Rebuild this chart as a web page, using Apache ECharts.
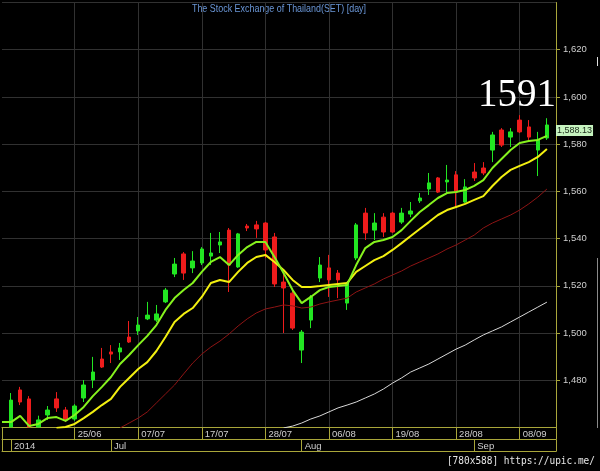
<!DOCTYPE html>
<html><head><meta charset="utf-8">
<script src="https://cdn.jsdelivr.net/npm/echarts@6/dist/echarts.min.js"></script>
<style>html,body{margin:0;padding:0;background:#000;}#c{width:600px;height:471px;}</style>
</head><body><div id="c"></div>
<script>
// ---- data (index 0 = partially hidden bar at the left edge) ----
const dates = ['13/06','16/06','17/06','18/06','19/06','20/06','23/06','24/06','25/06','26/06','27/06','30/06',
 '01/07','02/07','03/07','07/07','08/07','09/07','10/07','14/07','15/07','16/07','17/07','18/07','21/07','22/07','23/07','24/07','25/07','28/07','29/07','30/07','31/07',
 '01/08','04/08','05/08','06/08','07/08','08/08','11/08','13/08','14/08','18/08','19/08','20/08','21/08','22/08','25/08','26/08','27/08','28/08','29/08',
 '01/09','02/09','03/09','04/09','05/09','08/09','09/09','10/09','11/09'];
const openP = [null,1460.2,1475.9,1472.1,1460.2,1465.3,1472.1,1467.4,1463.6,1472.5,1480.1,
 1489.0,1492.0,1492.0,1498.3,1500.9,1506.0,1505.5,1513.2,1525.0,1533.5,
 1527.6,1529.7,1532.6,1537.3,1543.6,1528.0,1545.3,1545.8,1546.6,1540.7,
 1521.6,1516.9,1492.8,1505.5,1523.3,1527.6,1525.4,1512.7,1531.8,1550.8,
 1543.6,1549.1,1550.8,1547.0,1550.4,1556.0,1561.0,1565.7,1564.0,1567.0,
 1555.5,1568.2,1569.9,1577.5,1586.0,1583.0,1590.2,1587.3,1577.5,1582.6];
const closeP = [null,1471.6,1470.8,1460.2,1463.2,1467.4,1468.3,1463.2,1469.1,1478.0,1483.5,
 1485.6,1491.1,1493.7,1496.2,1503.4,1507.6,1508.1,1518.2,1529.2,1525.4,
 1530.5,1535.6,1533.9,1538.6,1528.8,1542.0,1544.5,1544.1,1535.2,1520.8,
 1519.1,1502.1,1500.4,1515.3,1528.8,1522.5,1522.5,1521.2,1545.8,1542.4,
 1546.6,1542.8,1542.8,1550.8,1551.7,1557.2,1563.6,1559.7,1564.8,1559.7,
 1561.9,1565.7,1567.8,1583.9,1579.6,1585.2,1585.2,1583.0,1581.8,1588.13];
const lowP = [null,1460.2,1469.5,1460.2,1460.2,1463.2,1466.6,1462.3,1462.8,1470.8,1476.7,
 1485.2,1487.3,1488.6,1495.8,1499.2,1505.5,1504.7,1512.7,1523.7,1522.5,
 1525.4,1528.8,1528.8,1533.9,1517.4,1527.6,1543.2,1540.3,1531.8,1519.5,
 1500.0,1501.3,1487.3,1502.1,1521.6,1515.3,1514.8,1509.8,1530.9,1539.4,
 1539.4,1540.7,1542.4,1546.2,1549.1,1555.1,1558.5,1559.3,1559.3,1553.4,
 1555.1,1564.4,1566.9,1572.4,1578.8,1578.8,1584.7,1581.8,1566.5,1581.8];
const highP = [null,1474.6,1477.2,1473.3,1465,1469.1,1475.0,1468.7,1469.9,1480.1,1489.9,
 1493.7,1494.9,1495.8,1505.1,1506.8,1513.2,1511.9,1519.1,1531.8,1534.3,
 1534.7,1536.4,1542.4,1542.8,1544.5,1542.4,1546.2,1547.5,1547.0,1542.4,
 1525.4,1518.2,1501.3,1516.1,1532.2,1533.1,1526.7,1521.6,1546.6,1553.0,
 1550.8,1550.8,1551.3,1553.0,1555.5,1559.3,1567.8,1566.1,1571.2,1568.6,
 1565.2,1572.0,1572.4,1585.2,1586.8,1586.8,1592.3,1590.2,1585.2,1591.0];
const maGreen = [1462.3,1462.3,1464.9,1460.6,1461.5,1464.0,1464.4,1462.8,1465.3,1468.7,1473.3,
 1477.2,1481.4,1486.9,1490.7,1494.9,1498.8,1503.4,1509.8,1514.8,1518.2,
 1521.2,1525.9,1530.1,1532.2,1528.8,1533.1,1536.4,1538.6,1538.6,1532.2,
 1525.4,1518.2,1512.7,1515.3,1518.2,1519.5,1519.9,1520.4,1528.8,1536.0,
 1538.6,1539.4,1540.7,1543.6,1547.5,1551.3,1554.2,1557.2,1559.3,1559.7,
 1560.6,1562.3,1564.8,1569.9,1573.7,1577.5,1580.5,1581.3,1581.8,1583.5];
const maYellow = [null,null,null,null,null,null,1459.8,1460.2,1461.5,1464.0,1466.6,
 1469.5,1472.1,1477.2,1481.0,1484.8,1487.7,1492.4,1498.3,1504.7,1508.1,
 1510.6,1515.3,1521.2,1522.5,1521.6,1525.9,1529.7,1532.2,1533.1,1530.1,
 1526.7,1522.5,1519.5,1519.5,1519.9,1520.4,1520.8,1521.2,1525.9,1528.4,
 1530.9,1532.6,1535.2,1538.1,1541.1,1544.1,1547.0,1550.0,1552.1,1553.4,
 1554.7,1556.4,1558.0,1562.3,1566.1,1569.1,1570.8,1572.4,1574.6,1578.0];
const maRed = [null,null,null,null,null,null,null,null,null,null,null,
 null,null,1459.8,1461.9,1464.0,1466.6,1470.4,1474.2,1478.0,1482.7,
 1487.3,1491.1,1494.1,1496.6,1499.6,1503.0,1506.0,1508.5,1510.2,1511.0,
 1511.9,1511.5,1510.6,1511.0,1512.3,1513.2,1514.0,1514.8,1517.4,1519.1,
 1520.8,1522.9,1524.6,1526.3,1528.4,1530.1,1531.8,1533.5,1535.6,1537.3,
 1539.4,1541.5,1544.5,1546.6,1548.3,1550.0,1552.1,1554.7,1557.6,1561.0];
const maWhite = [null,null,null,null,null,null,null,null,null,null,null,
 null,null,null,null,null,null,null,null,null,null,
 null,null,null,null,null,null,null,null,null,null,
 1459.8,1460.6,1461.9,1463.6,1464.9,1466.6,1468.3,1469.5,1470.8,1472.5,
 1474.2,1476.3,1478.8,1481.0,1483.5,1485.2,1486.9,1489.0,1491.1,1493.2,
 1494.9,1497.1,1499.2,1500.9,1502.6,1504.7,1506.8,1508.9,1511.0,1513.1];
const yMin = 1460, yMax = 1640, yStep = 20;
const lastClose = 1588.13;
const bigLabel = '1591';
const yearLabel = '2014';
const monthNames = ['Jan','Feb','Mar','Apr','May','Jun','Jul','Aug','Sep','Oct','Nov','Dec'];
const titleText = 'The Stock Exchange of Thailand(SET) [day]';
const footerText = '[780x588] https://upic.me/';

// ---- chart ----
const cats = dates.concat(['']);
const lastIdx = cats.length - 1;
const candles = dates.map((d, i) => openP[i] == null ? '-' : [openP[i], closeP[i], lowP[i], highP[i]]);
const pad = a => a.map(v => v == null ? '-' : v);
const isGridIdx = i => i >= 8 && i <= 57 && (i - 1) % 7 === 0;
const isMonthStart = i => i > 1 && i < dates.length && dates[i].slice(3) !== dates[i - 1].slice(3);
const YEL = '#a9a63a', LBL = '#cfcfcf', GRIDC = '#313131';
const FONT = '"Liberation Sans", Arial, sans-serif';

const chart = echarts.init(document.getElementById('c'), null, {renderer: 'canvas'});
chart.setOption({
  backgroundColor: '#000',
  animation: false,
  grid: {left: 2, top: 2.5, width: 554, height: 425},
  xAxis: [
    {type: 'category', data: cats, boundaryGap: false, position: 'bottom',
     axisLine: {show: true, lineStyle: {color: YEL}},
     axisTick: {show: true, length: 12, interval: i => i === 0 || i === lastIdx || isGridIdx(i), lineStyle: {color: YEL}},
     axisLabel: {show: true, interval: i => isGridIdx(i), align: 'left', padding: [0, 0, 0, 3], margin: 1.5,
                 color: LBL, fontSize: 9.5, fontFamily: FONT, lineHeight: 11},
     splitLine: {show: true, interval: i => isGridIdx(i), lineStyle: {color: GRIDC}}},
    {type: 'category', data: cats, boundaryGap: false, position: 'bottom', offset: 12,
     axisLine: {show: true, lineStyle: {color: YEL}},
     axisTick: {show: true, length: 12, interval: i => i === 0 || i === 1 || i === lastIdx || isMonthStart(i), lineStyle: {color: YEL}},
     axisLabel: {show: true, interval: i => i === 1 || isMonthStart(i), align: 'left', padding: [0, 0, 0, 3], margin: 1.5,
                 color: LBL, fontSize: 9.5, fontFamily: FONT, lineHeight: 11,
                 formatter: (v, i) => i === 1 ? yearLabel : monthNames[parseInt(v.slice(3), 10) - 1]},
     splitLine: {show: false}},
    {type: 'category', data: cats, boundaryGap: false, position: 'bottom', offset: 24,
     axisLine: {show: true, lineStyle: {color: YEL}}, axisTick: {show: false}, axisLabel: {show: false}, splitLine: {show: false}}
  ],
  yAxis: {type: 'value', position: 'right', min: yMin, max: yMax, interval: yStep,
    axisLine: {show: true, lineStyle: {color: YEL}},
    axisTick: {show: true, length: 4, lineStyle: {color: YEL}},
    axisLabel: {color: LBL, fontSize: 9.5, fontFamily: FONT, margin: 7, showMinLabel: false, showMaxLabel: false,
                formatter: v => v.toLocaleString('en-US')},
    splitLine: {show: true, lineStyle: {color: GRIDC}}},
  series: [
    {type: 'candlestick', data: candles, barWidth: 4, clip: true,
     itemStyle: {color: '#22e622', color0: '#ee1c1c', borderColor: '#22e622', borderColor0: '#ee1c1c', borderWidth: 1},
     markLine: {silent: true, symbol: ['none', 'none'], animation: false,
       lineStyle: {width: 0, color: 'rgba(0,0,0,0)'},
       data: [{yAxis: lastClose}],
       label: {show: true, position: 'end', distance: 0, verticalAlign: 'top',
               formatter: lastClose.toLocaleString('en-US', {minimumFractionDigits: 2}),
               color: '#1a2a1a', backgroundColor: '#c6f3bf', padding: [1, 1, 0, 1], lineHeight: 10, fontSize: 9, fontFamily: FONT}}},
    {type: 'line', data: pad(maWhite), showSymbol: false, lineStyle: {color: '#d8d8d8', width: 1}, z: 3},
    {type: 'line', data: pad(maRed), showSymbol: false, lineStyle: {color: '#8e1414', width: 1}, z: 3},
    {type: 'line', data: pad(maYellow), showSymbol: false, lineStyle: {color: '#f2ef10', width: 2}, z: 3},
    {type: 'line', data: pad(maGreen), showSymbol: false, lineStyle: {color: '#86f21e', width: 2}, z: 3}
  ],
  graphic: [
    {type: 'text', x: 279, y: 9, scaleX: 0.85, style: {text: titleText, fill: '#6a96d6', font: '10.5px ' + FONT, textAlign: 'center', textVerticalAlign: 'middle'}},
    {type: 'text', x: 478, y: 76, z: 10, style: {text: bigLabel, fill: '#ffffff', font: '39px "Liberation Serif", "Times New Roman", serif'}},
    {type: 'text', x: 595, y: 461, scaleX: 0.86, style: {text: footerText, fill: '#e6e6e6', font: '11px "DejaVu Sans Mono", monospace', textAlign: 'right', textVerticalAlign: 'middle'}},
    {type: 'line', shape: {x1: 597.5, y1: 57, x2: 597.5, y2: 66}, style: {stroke: '#e0e0e0', lineWidth: 1}},
    {type: 'line', shape: {x1: 597.5, y1: 258, x2: 597.5, y2: 428}, style: {stroke: '#8a8a8a', lineWidth: 1}}
  ]
});
</script></body></html>
